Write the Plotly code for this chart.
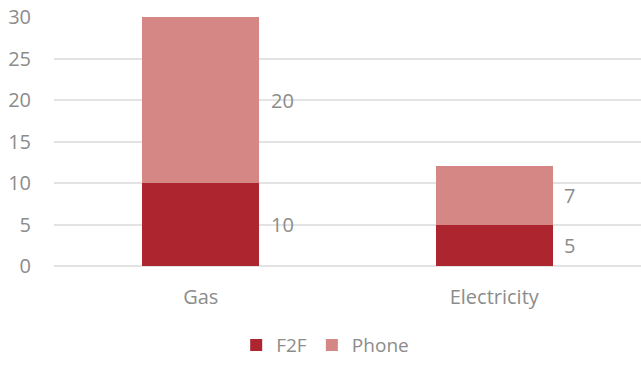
import plotly.graph_objects as go

categories = ["Gas", "Electricity"]
f2f = [10, 5]
phone = [20, 7]
series_names = ["F2F", "Phone"]
colors = ["#AC252F", "#D48784"]
y_ticks = [0, 5, 10, 15, 20, 25, 30]

text_color = "#8C8C8C"
font_family = "'Open Sans', Lato, sans-serif"
font_size = 20

fig = go.Figure()
fig.add_trace(go.Bar(x=categories, y=f2f, name=series_names[0],
                     marker=dict(color=colors[0], line=dict(width=0))))
fig.add_trace(go.Bar(x=categories, y=phone, name=series_names[1],
                     marker=dict(color=colors[1], line=dict(width=0))))

# value labels to the right of each stacked segment, at segment mid-height
for cat, a, b in zip(categories, f2f, phone):
    for val, base in ((a, 0), (b, a)):
        fig.add_annotation(x=cat, y=base + val / 2, text=str(val),
                           xref="x", yref="y", showarrow=False,
                           xanchor="left", yanchor="middle", xshift=68,
                           font=dict(size=font_size, color=text_color, family=font_family))

fig.update_layout(
    barmode="stack",
    bargap=0.6,
    width=641, height=365,
    margin=dict(l=54, r=0, t=17, b=99),
    plot_bgcolor="white", paper_bgcolor="white",
    font=dict(family=font_family, color=text_color, size=font_size),
    showlegend=True,
    legend=dict(orientation="h", x=0.462, xanchor="center", y=-0.318, yanchor="middle",
                font=dict(size=19, color=text_color), itemwidth=30, traceorder="normal"),
    xaxis=dict(showgrid=False, showline=False, zeroline=False, ticks="",
               ticklabelstandoff=17, tickfont=dict(size=font_size, color=text_color)),
    yaxis=dict(range=[0, 30], tickvals=y_ticks, showgrid=True, gridcolor="#E3E3E3",
               gridwidth=1.5, zeroline=True, zerolinecolor="#E3E3E3", zerolinewidth=1.5,
               showline=False, ticks="", ticklabelstandoff=22,
               tickfont=dict(size=font_size, color=text_color)),
)

fig.write_html("out.html")
